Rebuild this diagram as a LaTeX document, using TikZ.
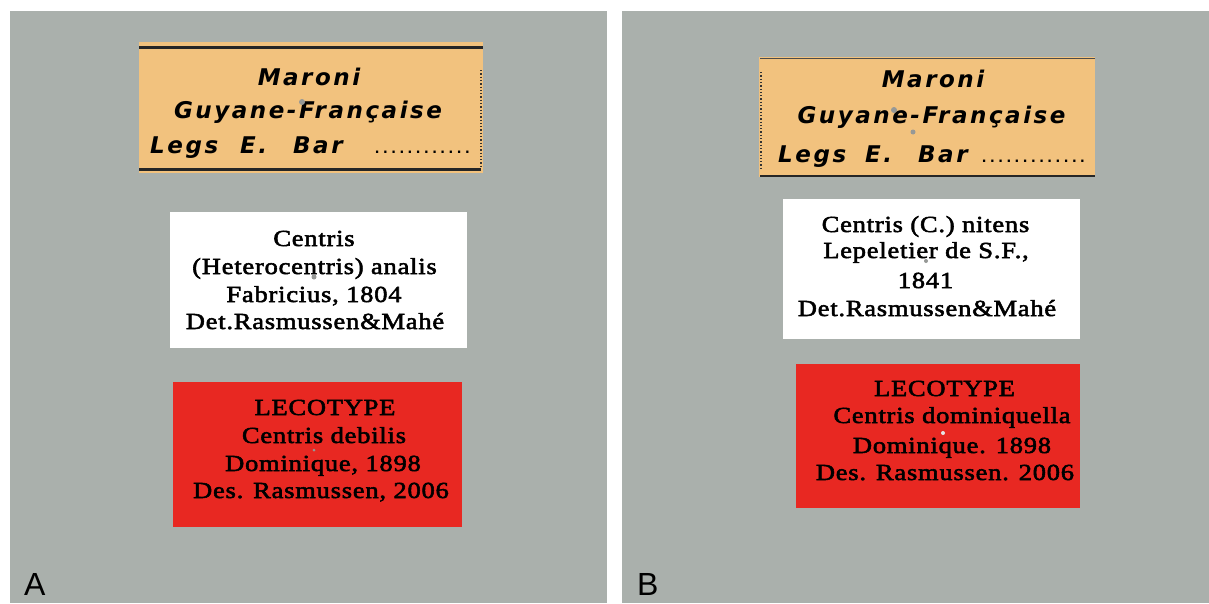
\documentclass[tikz,border=0pt]{standalone}
\usepackage{fontspec}
\setmainfont{Liberation Serif}
\newfontfamily\labelserif[FakeStretch=1.15,LetterSpace=3.5,FakeBold=2.4]{Liberation Serif}
\newfontfamily\typefont[LetterSpace=11]{DejaVu Sans}
\newfontfamily\dotfont{DejaVu Sans Mono}
\newfontfamily\panelfont{Liberation Sans}
\definecolor{panelgray}{RGB}{170,176,172}
\definecolor{tanpaper}{RGB}{242,194,126}
\definecolor{labelred}{RGB}{232,40,34}
\definecolor{holegray}{RGB}{150,152,150}
\tikzset{
  serifline/.style={anchor=base,inner sep=0pt,font=\labelserif\fontsize{23}{26}\selectfont},
  typeline/.style={anchor=base,inner sep=0pt,font=\typefont\bfseries\itshape\fontsize{23}{26}\selectfont},
  typeword/.style={typeline,anchor=base west},
  dotline/.style={anchor=base west,inner sep=0pt,font=\dotfont\bfseries\fontsize{13.6}{16}\selectfont},
  panelletter/.style={anchor=base west,inner sep=0pt,font=\panelfont\fontsize{32}{36}\selectfont},
  hole/.style={fill=holegray}
}
\begin{document}
\begin{tikzpicture}[x=1pt,y=-1pt]
\useasboundingbox (0,0) rectangle (1209,603);
\fill[white] (0,0) rectangle (1209,603);
% panels
\fill[panelgray] (10,11) rectangle (607,603);
\fill[panelgray] (622,11) rectangle (1209,603);

% ---------- Panel A ----------
\fill[tanpaper] (139,42) rectangle (483,173);
\draw[line width=3pt,black!85] (139,47) -- (483,47);
\draw[line width=3pt,black!85] (139,169) -- (481,169);
\draw[dotted,line width=1.3pt,black!80] (481,70) -- (481,167);
\node[typeline] (a1) at (309,85) {Maroni};
\node[typeline] (a2) at (308,118) {Guyane-Française};
\node[typeword] (a3) at (150,153) {Legs};
\node[typeword] (a4) at (240,153) {E.};
\node[typeword] (a5) at (293,153) {Bar};
\node[dotline] (a6) at (373,153) {............};
\fill[hole] (302,102) circle[radius=3pt];

\fill[white] (170,212) rectangle (467,348);
\node[serifline] (b1) at (314,246) {Centris};
\node[serifline] (b2) at (314.5,274) {(Heterocentris) analis};
\node[serifline] (b3) at (314,302) {Fabricius, 1804};
\node[serifline] (b4) at (315,329) {Det.Rasmussen\&Mahé};
\fill[hole] (314,277) circle[radius=2.5pt];

\fill[labelred] (173,382) rectangle (462,527);
\node[serifline] (c1) at (325,415) {LECOTYPE};
\node[serifline] (c2) at (324,443) {Centris debilis};
\node[serifline] (c3) at (323,471) {Dominique, 1898};
\node[serifline] (c4) at (321,498) {Des. Rasmussen, 2006};
\fill[holegray] (314,450) circle[radius=1.5pt];

\node[panelletter] (pa) at (24,595) {A};

% ---------- Panel B ----------
\fill[tanpaper] (759,57) rectangle (1095,177);
\draw[line width=0.8pt,black!70] (760,58) -- (1095,58);
\draw[line width=2pt,black!85] (760,176) -- (1095,176);
\draw[dotted,line width=1.3pt,black!80] (761,72) -- (761,168);
\node[typeline] (d1) at (933,87) {Maroni};
\node[typeline] (d2) at (931.5,123) {Guyane-Française};
\node[typeword] (d3) at (778,162) {Legs};
\node[typeword] (d4) at (865,162) {E.};
\node[typeword] (d5) at (918,162) {Bar};
\node[dotline] (d6) at (980,162) {.............};
\fill[hole] (894,110) circle[radius=3pt];
\fill[hole] (913,132) circle[radius=2.5pt];

\fill[white] (783,199) rectangle (1080,339);
\node[serifline] (e1) at (925.5,232) {Centris (C.) nitens};
\node[serifline] (e2) at (926,258) {Lepeletier de S.F.,};
\node[serifline] (e3) at (925.5,288) {1841};
\node[serifline] (e4) at (927,316) {Det.Rasmussen\&Mahé};
\fill[hole] (926,261) circle[radius=2pt];

\fill[labelred] (796,364) rectangle (1080,508);
\node[serifline] (f1) at (944.5,396) {LECOTYPE};
\node[serifline] (f2) at (952,423) {Centris dominiquella};
\node[serifline] (f3) at (952,453) {Dominique. 1898};
\node[serifline] (f4) at (945,480) {Des. Rasmussen. 2006};
\fill[white!80!gray] (943,433) circle[radius=2pt];

\node[panelletter] (pb) at (637,595) {B};
\end{tikzpicture}
\end{document}
